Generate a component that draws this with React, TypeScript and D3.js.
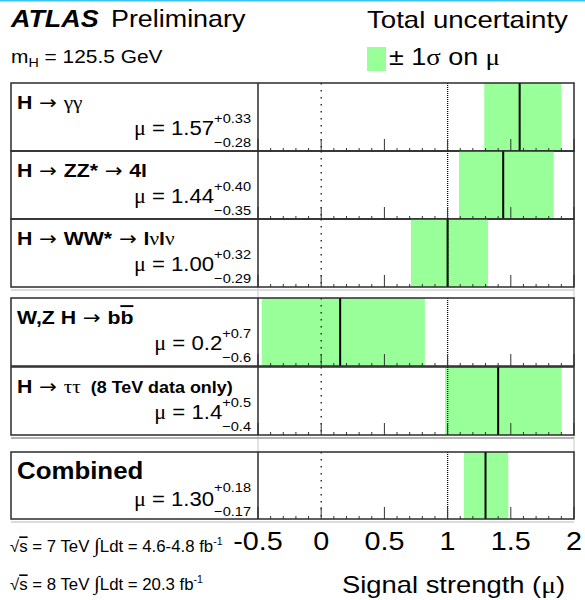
import React from "react";
import * as d3 from "d3";

// ---------- data ----------
const channelKeys = ["gamgam", "zz", "ww", "bb", "tautau", "combined"];
const muValues = [1.57, 1.44, 1.0, 0.15, 1.4, 1.3];
const errUp = [0.33, 0.4, 0.32, 0.67, 0.5, 0.18];
const errDown = [0.28, 0.35, 0.29, 0.62, 0.42, 0.17];
const muLabels = ["1.57", "1.44", "1.00", "0.2", "1.4", "1.30"];
const upLabels = ["+0.33", "+0.40", "+0.32", "+0.7", "+0.5", "+0.18"];
const downLabels = ["\u22120.28", "\u22120.35", "\u22120.29", "\u22120.6", "\u22120.4", "\u22120.17"];
const xTickValues = [-0.5, 0, 0.5, 1, 1.5, 2];
const xTickLabels = ["-0.5", "0", "0.5", "1", "1.5", "2"];
const refLines = [0, 1];

// ---------- layout ----------
const W = 585;
const H = 600;
const LEFT = 11;
const PLOT_L = 258;
const PLOT_R = 574;
const panelTops = [83, 151, 219, 298, 367, 452];
const panelH = 68;
const groupEnds = [2, 4, 5];

const SANS = "'Liberation Sans', Arial, Helvetica, sans-serif";
const SERIF = "'Liberation Serif', 'DejaVu Serif', serif";
const ARROWF = "'DejaVu Sans', sans-serif";
const GREEN = "#99ff99";
const FRAME = "#2b2b2b";

const charW: Record<string, number> = {
  "0": 0.556, "1": 0.556, "2": 0.556, "3": 0.556, "4": 0.556, "5": 0.556,
  "6": 0.556, "7": 0.556, "8": 0.556, "9": 0.556, ".": 0.278, "+": 0.584, "\u2212": 0.584,
};
const strW = (s: string) => s.split("").reduce((a, c) => a + (charW[c] ?? 0.556), 0);

function T(props: any) {
  const { x, y, sx = 1.12, size, anchor = "start", weight, italic, family, fill = "#000", children } = props;
  return (
    <text
      transform={`translate(${x},${y}) scale(${sx},1)`}
      fontSize={size}
      textAnchor={anchor}
      fontWeight={weight}
      fontStyle={italic ? "italic" : undefined}
      fontFamily={family ?? SANS}
      fill={fill}
    >
      {children}
    </text>
  );
}

function ChannelLabel({ k, y }: { k: string; y: number }) {
  const x = 17;
  const sx = 1.12;
  const g = (s: string) => (
    <tspan fontFamily={SERIF} fontWeight="normal">{s}</tspan>
  );
  const arrow = (
    <tspan fontWeight="normal" fontFamily={ARROWF}>{" \u2192 "}</tspan>
  );
  if (k === "gamgam")
    return (
      <T x={x} y={y} size={19} sx={sx} weight="bold">
        H{arrow}{g("\u03b3\u03b3")}
      </T>
    );
  if (k === "zz")
    return (
      <T x={x} y={y} size={19} sx={sx} weight="bold">
        H{arrow}ZZ*{arrow}4l
      </T>
    );
  if (k === "ww")
    return (
      <T x={x} y={y} size={19} sx={sx} weight="bold">
        H{arrow}WW*{arrow}l{g("\u03bd")}l{g("\u03bd")}
      </T>
    );
  if (k === "bb")
    return (
      <T x={x} y={y} size={19} sx={sx} weight="bold">
        W,Z H{arrow}b<tspan style={{ textDecoration: "overline" }}>b</tspan>
      </T>
    );
  if (k === "tautau")
    return (
      <T x={x} y={y} size={19} sx={sx} weight="bold">
        H{arrow}{g("\u03c4\u03c4")}
        <tspan fontSize={16}>{"\u00a0\u00a0(8 TeV data only)"}</tspan>
      </T>
    );
  return (
    <T x={x} y={y + 1} size={23.5} sx={1.1} weight="bold">
      Combined
    </T>
  );
}

export default function App() {
  const x = d3.scaleLinear().domain([-0.5, 2]).range([PLOT_L, PLOT_R]);
  const minorTicks = d3.range(-5, 21).map((i) => i / 10);

  const supSize = 13.5;
  const supSx = 1.08;
  const labelRight = 251;

  return (
    <svg
      width={W}
      height={H}
      style={{ position: "absolute", left: 0, top: 0, background: "#fff" }}
    >
      <rect x={0} y={0} width={W} height={H} fill="#fff" />
      <line x1={0} x2={W} y1={0.75} y2={0.75} stroke="#39c6f2" strokeWidth={1.5} />

      {/* header */}
      <T x={11} y={27} size={24} sx={1.12} weight="bold" italic>
        ATLAS
      </T>
      <T x={111} y={27} size={24} sx={1.12}>
        Preliminary
      </T>
      <T x={11} y={63} size={19} sx={1.1}>
        m<tspan fontSize={13} dy={4}>H</tspan>
        <tspan dy={-4}>{" = 125.5 GeV"}</tspan>
      </T>

      {/* legend */}
      <T x={367} y={28} size={23} sx={1.2}>
        Total uncertainty
      </T>
      <rect x={367} y={47} width={19} height={24} fill={GREEN} />
      <T x={389} y={65} size={23} sx={1.17}>
        {"\u00b1 1"}
        <tspan fontFamily={SERIF}>{"\u03c3"}</tspan>
        {" on "}
        <tspan fontFamily={SERIF}>{"\u03bc"}</tspan>
      </T>

      {/* gap connectors */}
      {groupEnds.slice(0, 2).map((gi, j) => {
        const yb = panelTops[gi] + panelH;
        const yn = panelTops[groupEnds[j] + 1];
        return (
          <g key={"gap" + j}>
            <line x1={PLOT_L} x2={PLOT_L} y1={yb} y2={yn} stroke="#c8c8c8" strokeWidth={1} />
            <line x1={PLOT_R} x2={PLOT_R} y1={yb} y2={yn} stroke="#c8c8c8" strokeWidth={1} />
          </g>
        );
      })}
      {groupEnds.map((gi, j) => {
        const yb = panelTops[gi] + (gi === 5 ? panelH - 1 : panelH);
        return (
          <line
            key={"under" + j}
            x1={LEFT}
            x2={PLOT_R}
            y1={yb + 3}
            y2={yb + 3}
            stroke={j === 1 ? "#9a9a9a" : "#d0d0d0"}
            strokeWidth={1.5}
          />
        );
      })}

      {/* panels */}
      {channelKeys.map((k, i) => {
        const top = panelTops[i];
        const h = i === 5 ? panelH - 1 : panelH;
        const bottom = top + h;
        const lo = muValues[i] - errDown[i];
        const hi = muValues[i] + errUp[i];
        const supW = Math.max(strW(upLabels[i]), strW(downLabels[i])) * supSize * supSx;
        const mainEnd = labelRight - supW;
        return (
          <g key={k}>
            <rect x={x(lo)} y={top} width={x(hi) - x(lo)} height={h} fill={GREEN} />
            {refLines.map((v) => (
              <line
                key={v}
                x1={x(v)}
                x2={x(v)}
                y1={top}
                y2={bottom}
                stroke="#000"
                strokeWidth={v === 0 ? 1.2 : 1.3}
                strokeDasharray={v === 0 ? "1.5,5.5" : "1,1"}
              />
            ))}
            {minorTicks.map((v) => {
              const major = Math.abs(v * 2 - Math.round(v * 2)) < 1e-6;
              return (
                <line
                  key={v}
                  x1={x(v)}
                  x2={x(v)}
                  y1={bottom}
                  y2={bottom - (major ? 12 : 3)}
                  stroke="#333"
                  strokeWidth={1}
                />
              );
            })}
            <line
              x1={x(muValues[i])}
              x2={x(muValues[i])}
              y1={top}
              y2={bottom}
              stroke="#000"
              strokeWidth={2}
            />
            <rect
              x={LEFT}
              y={top}
              width={PLOT_R - LEFT}
              height={h}
              fill="none"
              stroke={FRAME}
              strokeWidth={1.5}
            />
            <line x1={PLOT_L} x2={PLOT_L} y1={top} y2={bottom} stroke={FRAME} strokeWidth={1.5} />

            <ChannelLabel k={k} y={top + 26} />
            <T x={mainEnd} y={top + (i === 5 ? 54 : 52)} size={20.5} sx={1.08} anchor="end">
              <tspan fontFamily={SERIF}>{"\u03bc"}</tspan>
              {" = " + muLabels[i]}
            </T>
            <T x={labelRight} y={top + 40} size={supSize} sx={supSx} anchor="end">
              {upLabels[i]}
            </T>
            <T x={labelRight} y={top + 64} size={supSize} sx={supSx} anchor="end">
              {downLabels[i]}
            </T>
          </g>
        );
      })}

      {/* x axis labels */}
      {xTickValues.map((v, i) => (
        <T key={v} x={x(v)} y={550} size={25} sx={1.15} anchor="middle">
          {xTickLabels[i]}
        </T>
      ))}
      <T x={565} y={593} size={23} sx={1.19} anchor="end">
        {"Signal strength ("}
        <tspan fontFamily={SERIF}>{"\u03bc"}</tspan>
        {")"}
      </T>

      {/* energy / luminosity */}
      <T x={10} y={552} size={16} sx={1.05}>
        {"\u221a"}
        <tspan style={{ textDecoration: "overline" }}>s</tspan>
        {" = 7 TeV "}
        <tspan fontFamily={SERIF} fontSize={20}>{"\u222b"}</tspan>
        {"Ldt = 4.6-4.8 fb"}
        <tspan fontSize={10} dy={-7}>{"-1"}</tspan>
      </T>
      <T x={10} y={590} size={16} sx={1.05}>
        {"\u221a"}
        <tspan style={{ textDecoration: "overline" }}>s</tspan>
        {" = 8 TeV "}
        <tspan fontFamily={SERIF} fontSize={20}>{"\u222b"}</tspan>
        {"Ldt = 20.3 fb"}
        <tspan fontSize={10} dy={-7}>{"-1"}</tspan>
      </T>
    </svg>
  );
}
